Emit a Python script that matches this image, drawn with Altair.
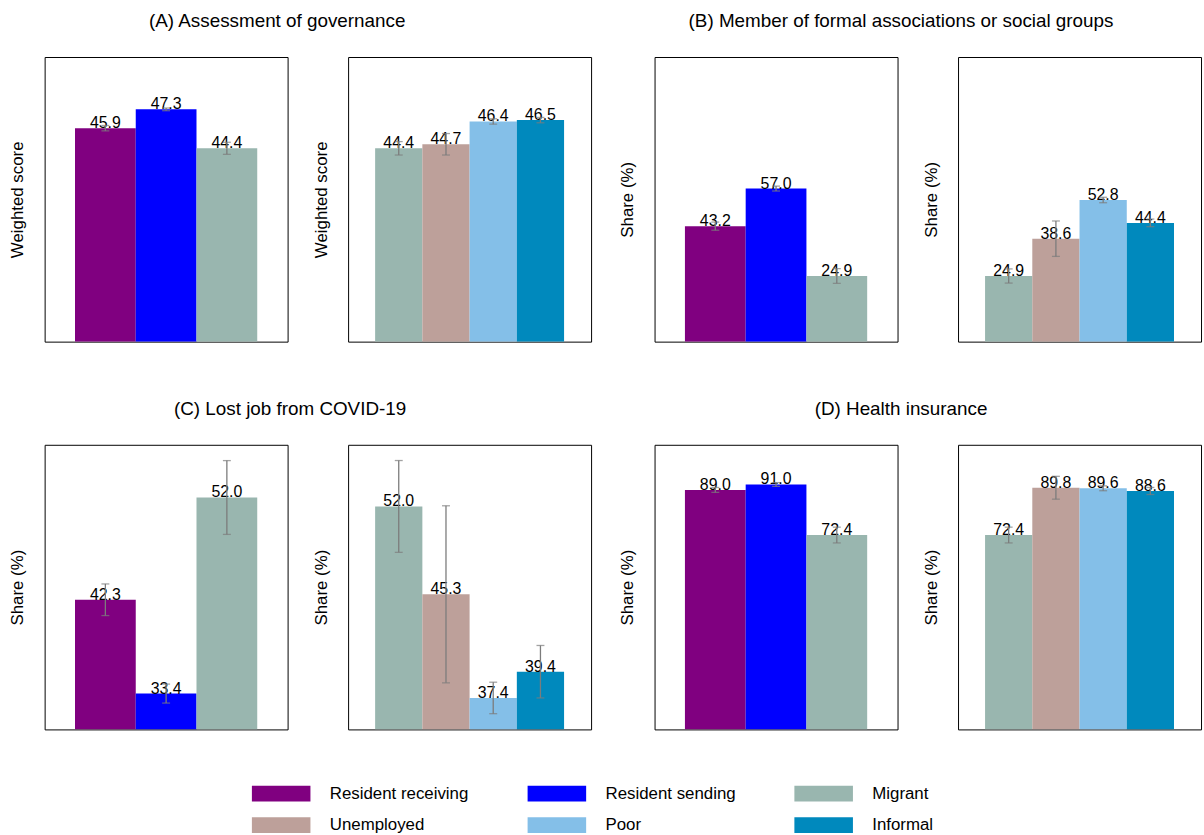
import altair as alt
import pandas as pd

# Group order and colours shared by every panel and the legend
GROUPS = ["Resident receiving", "Resident sending", "Migrant", "Unemployed", "Poor", "Informal"]
GROUP_COLORS = ["#800080", "#0000FF", "#99B6AF", "#BDA09A", "#84BFE8", "#0089BD"]

residence_groups = ["Resident receiving", "Resident sending", "Migrant"]
status_groups = ["Migrant", "Unemployed", "Poor", "Informal"]

# (A) Assessment of governance – weighted score
gov_residence = [45.9, 47.3, 44.4]
gov_residence_err = [0.2, 0.1, 0.45]
gov_status = [44.4, 44.7, 46.4, 46.5]
gov_status_err = [0.5, 0.8, 0.2, 0.2]

# (B) Member of formal associations or social groups – share (%)
assoc_residence = [43.2, 57.0, 24.9]
assoc_residence_err = [1.5, 0.9, 2.7]
assoc_status = [24.9, 38.6, 52.8, 44.4]
assoc_status_err = [2.6, 6.5, 1.0, 1.4]

# (C) Lost job from COVID-19 – share (%)
job_residence = [42.3, 33.4, 52.0]
job_residence_err = [1.5, 0.9, 3.5]
job_status = [52.0, 45.3, 37.4, 39.4]
job_status_err = [3.5, 6.75, 1.2, 2.0]

# (D) Health insurance – share (%)
ins_residence = [89.0, 91.0, 72.4]
ins_residence_err = [0.9, 0.7, 2.9]
ins_status = [72.4, 89.8, 89.6, 88.6]
ins_status_err = [2.9, 4.2, 0.9, 1.3]

FONT = "Liberation Sans"
PANEL_W = 245
PANEL_H = 287
ERR_COLOR = "#7c7c7c"

color_scale = alt.Scale(domain=GROUPS, range=GROUP_COLORS)


def panel(groups, values, errs, y_domain, y_title, pad_outer):
    df = pd.DataFrame({
        "group": groups,
        "value": values,
        "lo": [v - e for v, e in zip(values, errs)],
        "hi": [v + e for v, e in zip(values, errs)],
    })
    x = alt.X("group:N", sort=groups, axis=None,
              scale=alt.Scale(paddingInner=0, paddingOuter=pad_outer))
    y_scale = alt.Scale(domain=y_domain, zero=False, nice=False)
    y_axis = alt.Axis(title=y_title, labels=False, ticks=False, domain=False, grid=False,
                      titleFontSize=17, titleFontWeight="normal", titleColor="black",
                      titlePadding=18, titleFont=FONT)
    base = alt.Chart(df).encode(x=x)
    bars = base.mark_bar(clip=True).encode(
        y=alt.Y("value:Q", scale=y_scale, axis=y_axis),
        y2=alt.datum(y_domain[0]),
        color=alt.Color("group:N", scale=color_scale, title=None),
    )
    whisker = base.mark_rule(color=ERR_COLOR, strokeWidth=1.3).encode(
        y=alt.Y("lo:Q"), y2="hi:Q")
    cap_lo = base.mark_tick(color=ERR_COLOR, size=8, thickness=1.3, orient="horizontal").encode(
        y=alt.Y("lo:Q"))
    cap_hi = base.mark_tick(color=ERR_COLOR, size=8, thickness=1.3, orient="horizontal").encode(
        y=alt.Y("hi:Q"))
    labels = base.mark_text(fontSize=16, font=FONT, color="black", baseline="alphabetic").encode(
        y=alt.Y("value:Q"), text=alt.Text("value:Q", format=".1f"))
    return alt.layer(bars, labels, whisker, cap_lo, cap_hi).properties(
        width=PANEL_W, height=PANEL_H)


def section(title, left, right, dx):
    return alt.hconcat(left, right, spacing=23).properties(
        title=alt.TitleParams(title, fontSize=19, fontWeight="normal", font=FONT,
                              color="black", anchor="middle", offset=26, dx=dx)
    ).resolve_scale(y="independent", x="independent")


sec_a = section(
    "(A) Assessment of governance",
    panel(residence_groups, gov_residence, gov_residence_err, [30, 51.2], "Weighted score", 0.5),
    panel(status_groups, gov_status, gov_status_err, [30, 51.2], "Weighted score", 0.572),
    -23,
)
sec_b = section(
    "(B) Member of formal associations or social groups",
    panel(residence_groups, assoc_residence, assoc_residence_err, [0.8, 105.3], "Share (%)", 0.5),
    panel(status_groups, assoc_status, assoc_status_err, [0.8, 105.3], "Share (%)", 0.572),
    -9,
)
sec_c = section(
    "(C) Lost job from COVID-19",
    panel(residence_groups, job_residence, job_residence_err, [30, 57], "Share (%)", 0.5),
    panel(status_groups, job_status, job_status_err, [35, 56.7], "Share (%)", 0.572),
    -10,
)
sec_d = section(
    "(D) Health insurance",
    panel(residence_groups, ins_residence, ins_residence_err, [0.9, 105.6], "Share (%)", 0.5),
    panel(status_groups, ins_status, ins_status_err, [0.9, 105.6], "Share (%)", 0.572),
    -9,
)

row1 = alt.hconcat(sec_a, sec_b, spacing=26).resolve_scale(y="independent", x="independent")
row2 = alt.hconcat(sec_c, sec_d, spacing=26).resolve_scale(y="independent", x="independent")

# Wide legend keys: a 16px nominal symbol whose path is stretched sideways to 59px
chart = alt.vconcat(row1, row2, spacing=57).resolve_scale(
    y="independent", x="independent", color="shared"
).properties(
    padding={"left": 8, "top": 8, "right": 2, "bottom": 1}
).configure(
    font=FONT
).configure_view(
    stroke="black", strokeWidth=1
).configure_legend(
    orient="none", legendX=230, legendY=734, direction="horizontal", columns=3,
    symbolType="M-3.69,-1H3.69V1H-3.69Z", symbolSize=256, symbolStrokeWidth=0,
    symbolOpacity=1, labelFontSize=17, labelFont=FONT, labelColor="black",
    labelOffset=40.5, columnPadding=58, rowPadding=14, gridAlign="each"
)

chart.save("out.html", embed_options={"renderer": "svg", "actions": False})
